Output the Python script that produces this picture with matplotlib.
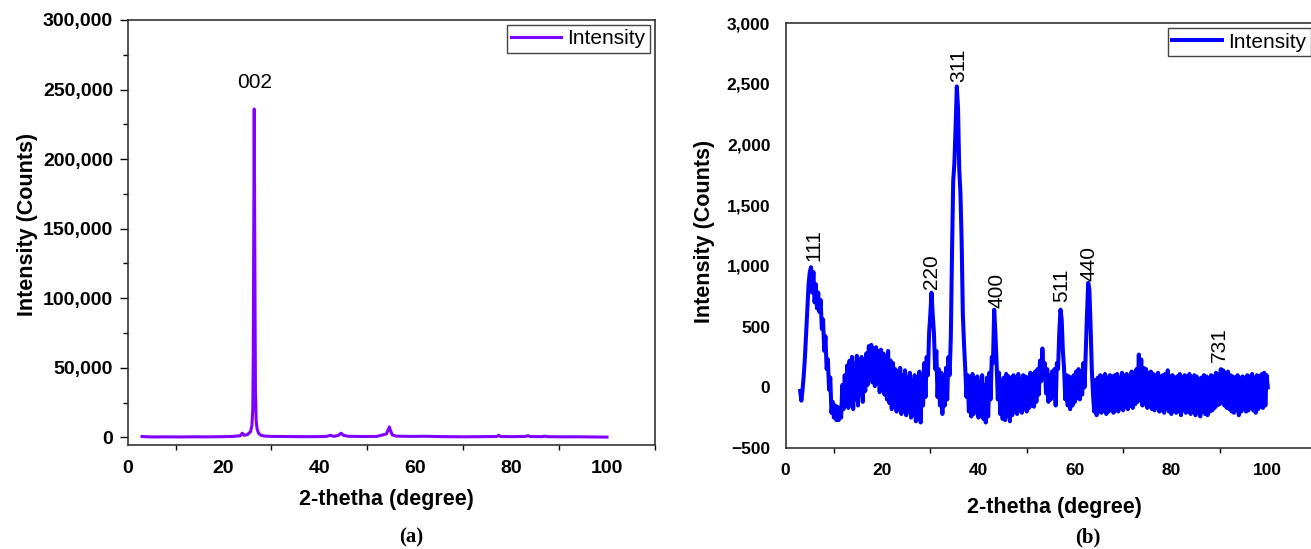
import numpy as np
import matplotlib
matplotlib.use("Agg")
from matplotlib import pyplot as plt
from matplotlib.ticker import FuncFormatter, MultipleLocator

# ---- panel (a) ----
theta_a = [3.0, 5.0, 8.0, 11.0, 14.0, 17.0, 20.0, 22.0,
           23.5, 23.9, 24.3, 25.0, 25.6, 25.9, 26.1, 26.2, 26.3, 26.4,
           26.5, 26.58, 26.65, 26.8, 27.0, 27.3, 27.8, 28.6, 30.0, 33.0,
           36.0, 39.0, 41.5, 42.3, 43.0, 44.0, 44.5, 45.0, 46.0, 49.0,
           52.0, 54.0, 54.4, 54.6, 54.8, 55.2, 56.0, 59.0, 62.0, 66.0,
           70.0, 74.0, 77.0, 77.4, 77.8, 80.0, 83.0, 83.5, 84.0, 86.5,
           87.0, 87.5, 90.0, 94.0, 97.0, 100.0]
counts_a = [600, 300, 350, 300, 400, 350, 500, 700,
            1200, 3000, 1500, 2000, 4000, 8000, 20000, 60000, 147000, 236000,
            150000, 85000, 35000, 12000, 6000, 3000, 1500, 900, 700, 600,
            500, 500, 700, 1500, 700, 1500, 3000, 1500, 800, 600,
            700, 2500, 6000, 7500, 5000, 1800, 900, 700, 800, 500,
            400, 500, 600, 1500, 600, 500, 700, 1200, 600, 500,
            900, 500, 400, 400, 300, 200]
label_a = "002"
label_a_pos = (26.4, 255000)

# ---- panel (b): 0.25 deg steps from 3 to 100, one row per 5 deg ----
theta_b = np.arange(3.0, 100.001, 0.25)
counts_b = [
    -30, -110, -20, 100, 250, 450, 650, 850, 950, 990, 780, 950, 700, 850, 650, 780, 620, 720, 480, 560,
    300, 420, 150, 230, -20, 80, -210, -120, -250, -150, -270, -160, -270, -190, -250, 20, -180, 100, -150, 180,
    -170, 220, -140, 250, -180, 200, -100, 260, -150, 230, -60, 250, -120, 200, -30, 280, 20, 340, 60, 350,
    40, 320, 10, 330, 30, 300, -40, 310, -20, 280, -60, 260, -100, 300, -130, 220, -180, 200, -140, 150,
    -200, 130, -170, 160, -220, 100, -190, 140, -230, 80, -200, 120, -250, 60, -230, 100, -280, 40, -260, 130,
    -290, 60, -150, 200, -80, 250, 100, 450, 600, 780, 600, 450, 150, 300, -80, 150, -150, 120, -220, 100,
    -150, 160, -100, 250, 100, 400, 1100, 1700, 1850, 2150, 2480, 2300, 1800, 1600, 1200, 600, 350, 150, -80, 100,
    -200, 80, -240, 110, -220, 60, -200, 90, -250, 50, -230, 100, -260, 20, -290, 80, -240, 120, -100, 250,
    200, 640, 450, 200, -100, 120, -220, 60, -260, 80, -270, 110, -240, 90, -280, 60, -230, 100, -200, 80,
    -220, 110, -190, 70, -210, 100, -180, 90, -200, 80, -170, 120, -150, 110, -160, 130, -120, 150, -60, 220,
    50, 320, 100, 200, -50, 150, -120, 100, -100, 130, -80, 150, -150, 200, 150, 450, 640, 560, 300, 150,
    -100, 100, -150, 90, -180, 80, -150, 100, -120, 130, -90, 150, -100, 120, -60, 200, 0, 300, 600, 860,
    800, 500, 150, -60, -200, 60, -230, 80, -200, 100, -210, 90, -190, 110, -220, 80, -200, 100, -180, 90,
    -210, 100, -190, 110, -200, 80, -170, 120, -190, 100, -160, 110, -180, 90, -150, 130, -170, 120, -140, 150,
    -120, 270, -100, 230, -150, 160, -140, 150, -170, 120, -160, 130, -180, 110, -190, 100, -170, 120, -200, 90,
    -190, 100, -210, 110, -180, 140, -200, 90, -220, 100, -190, 80, -210, 90, -200, 110, -230, 80, -190, 100,
    -210, 90, -200, 110, -220, 80, -190, 100, -230, 90, -210, 70, -240, 80, -200, 100, -220, 90, -230, 80,
    -200, 100, -190, 90, -170, 120, -150, 110, -140, 150, -120, 140, -150, 120, -170, 130, -180, 100, -200, 90,
    -210, 80, -190, 100, -230, 70, -200, 90, -180, 80, -200, 100, -190, 90, -170, 110, -190, 80, -210, 100,
    -180, 90, -160, 110, -170, 120, -150, 100, 0,
]
labels_b = ["111", "220", "311", "400", "511", "440", "731"]
labels_b_theta = [5.9, 30.2, 35.9, 43.8, 57.3, 63.0, 90.0]
labels_b_counts = [1040, 810, 2520, 650, 700, 880, 206]

plt.rcParams["font.family"] = ["Liberation Sans", "DejaVu Sans"]


def thousands(v, pos):
    return f"{v:,.0f}".replace("-", "\u2212")


def style_axes(ax, tick_size):
    for s in ax.spines.values():
        s.set_linewidth(1.2)
        s.set_color("#333333")
    ax.yaxis.set_major_formatter(FuncFormatter(thousands))
    ax.xaxis.set_major_locator(MultipleLocator(20))
    ax.xaxis.set_minor_locator(MultipleLocator(10))
    ax.tick_params(axis="x", which="major", length=0, pad=11)
    ax.tick_params(axis="x", which="minor", length=3.5, width=1.0, direction="out")
    ax.tick_params(labelsize=tick_size)
    for t in ax.get_xticklabels() + ax.get_yticklabels():
        t.set_fontweight("bold")
    ax.set_xlim(0, 110)


def legend(ax):
    leg = ax.legend(loc="upper right", fancybox=False, edgecolor="#444444",
                    framealpha=1, fontsize=15, borderpad=0.2, handlelength=2.4,
                    handletextpad=0.3, borderaxespad=0.25)
    leg.get_frame().set_linewidth(1.0)


fig = plt.figure(figsize=(13.11, 5.49), dpi=100)

# (a)
ax_a = fig.add_axes([0.0974, 0.1894, 0.4022, 0.7742])
ax_a.plot(theta_a, counts_a, color="#8000ff", lw=2.2, label="Intensity")
ax_a.set_ylim(-5500, 300000)
ax_a.yaxis.set_major_locator(MultipleLocator(50000))
ax_a.yaxis.set_minor_locator(MultipleLocator(25000))
ax_a.tick_params(axis="y", which="major", length=5.5, width=1.0, pad=5)
ax_a.tick_params(axis="y", which="minor", length=3.5, width=1.0)
style_axes(ax_a, 14)
ax_a.text(*label_a_pos, label_a, ha="center", va="center", fontsize=15)
ax_a.set_xlabel("2-thetha (degree)", fontsize=15.5, fontweight="bold", va="center")
ax_a.xaxis.set_label_coords(0.49, -0.129)
ax_a.set_ylabel("Intensity (Counts)", fontsize=15.5, fontweight="bold", va="center")
ax_a.yaxis.set_label_coords(-0.19, 0.52)
legend(ax_a)

# (b)
ax_b = fig.add_axes([0.5993, 0.184, 0.4045, 0.7736])
ax_b.plot(theta_b, counts_b, color="#0000ff", lw=2.9, label="Intensity")
ax_b.set_ylim(-500, 3000)
ax_b.yaxis.set_major_locator(MultipleLocator(500))
ax_b.tick_params(axis="y", which="major", length=0, pad=11)
style_axes(ax_b, 12.5)
for lab, t, c in zip(labels_b, labels_b_theta, labels_b_counts):
    ax_b.text(t, c, lab, rotation=90, ha="center", va="bottom", fontsize=15)
ax_b.set_xlabel("2-thetha (degree)", fontsize=15.5, fontweight="bold", va="center")
ax_b.xaxis.set_label_coords(0.506, -0.139)
ax_b.set_ylabel("Intensity (Counts)", fontsize=15.5, fontweight="bold", va="center")
ax_b.yaxis.set_label_coords(-0.154, 0.51)
legend(ax_b)

fig.text(411 / 1311, 1 - 537 / 549, "(a)", ha="center", va="center",
         fontsize=15, fontweight="bold", family="Liberation Serif")
fig.text(1088 / 1311, 1 - 537 / 549, "(b)", ha="center", va="center",
         fontsize=15, fontweight="bold", family="Liberation Serif")

fig.savefig("out.png", dpi=100)
